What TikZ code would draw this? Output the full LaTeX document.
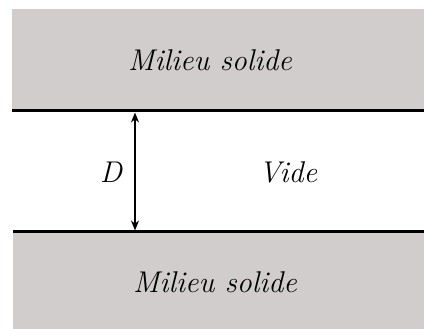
\documentclass[tikz,border=0pt]{standalone}
\usetikzlibrary{arrows.meta}
\definecolor{solidgray}{RGB}{209,205,205}
\begin{document}
\begin{tikzpicture}[x=1pt,y=-1pt,
  lbl/.style={font=\fontsize{30}{32}\selectfont\itshape, inner sep=0pt},
  wall/.style={line width=3pt},
  gap/.style={line width=2pt, {Stealth[length=10pt,width=8pt]}-{Stealth[length=10pt,width=8pt]}}]
\useasboundingbox (0,0) rectangle (424,329);
\fill[white] (0,0) rectangle (424,329);
\fill[solidgray] (12,9) rectangle (424,111);
\fill[solidgray] (13,232) rectangle (424,329);
\coordinate (tl) at (12,111);
\coordinate (tr) at (424,111);
\coordinate (bl) at (13,232);
\coordinate (br) at (424,232);
\draw[wall] (tl) -- (tr);
\draw[wall] (bl) -- (br);
\coordinate (atop) at (135,112.5);
\coordinate (abot) at (135,230.5);
\draw[gap] (atop) -- (abot);
\node[lbl] (top) at (210,60) {Milieu solide};
\node[lbl] (bottom) at (215,282) {Milieu solide};
\node[lbl] (d) at (111,172) {D};
\node[lbl] (vide) at (288,172) {Vide};
\end{tikzpicture}
\end{document}
